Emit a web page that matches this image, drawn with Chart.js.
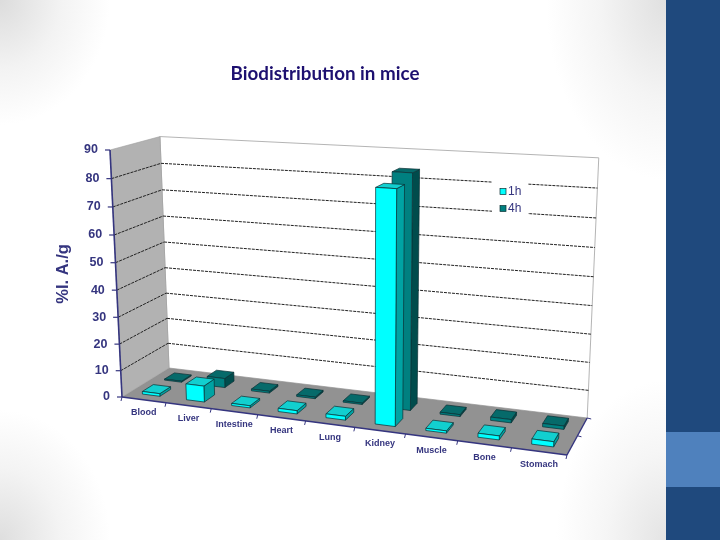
<!DOCTYPE html>
<html>
<head>
<meta charset="utf-8">
<script src="https://cdn.jsdelivr.net/npm/chart.js@4"></script>
<style>
  html, body { margin: 0; padding: 0; width: 720px; height: 540px; overflow: hidden; }
  body {
    position: relative;
    background-color: #fff;
    background-image:
      radial-gradient(ellipse 110px 125px at 0 0, #dcdcdc, rgba(220,220,220,0.35) 55%, rgba(220,220,220,0)),
      radial-gradient(ellipse 110px 130px at 0 540px, #dedede, rgba(222,222,222,0.35) 55%, rgba(222,222,222,0)),
      radial-gradient(ellipse 120px 180px at 666px 0, #e0e0e0, rgba(224,224,224,0.35) 55%, rgba(224,224,224,0)),
      radial-gradient(ellipse 110px 160px at 666px 540px, #e4e4e4, rgba(228,228,228,0.35) 55%, rgba(228,228,228,0));
  }
  #chart { position: absolute; left: 0; top: 0; }
  .panel { position: absolute; left: 666px; width: 54px; }
</style>
</head>
<body>
<canvas id="chart" width="650" height="540"></canvas>
<div class="panel" style="top:0;height:540px;background:#1f497d"></div>
<div class="panel" style="top:432px;height:55px;background:#4f81bd"></div>
<script>
const categories = ["Blood", "Liver", "Intestine", "Heart", "Lung", "Kidney", "Muscle", "Bone", "Stomach"];
const hour1 = [1, 6, 0.8, 1.2, 1.4, 81.5, 0.8, 1.4, 1.8];
const hour4 = [0.4, 3.5, 0.7, 0.6, 0.5, 84, 0.7, 1.2, 1.2];
const seriesLabels = ["1h", "4h"];
const axisMax = 90;
const axisStep = 10;
const axisTitle = "%I. A./g";
const chartTitle = "Biodistribution in mice";

const NAVY = "#35357f";
// camera: pixel corners of the plot box, and the perspective weight of each axis
const ORIGIN = [122, 397];
const X_END = [567, 455];
const Y_END = [110, 150];
const Z_END = [169, 368];
const W_X = 0.878, W_Y = 0.953, W_Z = 1.07;
// depth slot of each series on the floor
const ROWS = [[0.15, 0.38], [0.62, 0.84]];
const FACES = [
  { front: "#00ffff", side: "#00a3a3", top: "#12cfcf" },
  { front: "#008080", side: "#004c4c", top: "#066a6a" },
];

function project(u, v, z) {
  const d = 1 + (W_X - 1) * u + (W_Y - 1) * v + (W_Z - 1) * z;
  return [0, 1].map(
    (k) =>
      (ORIGIN[k] +
        u * (W_X * X_END[k] - ORIGIN[k]) +
        v * (W_Y * Y_END[k] - ORIGIN[k]) +
        z * (W_Z * Z_END[k] - ORIGIN[k])) / d
  );
}

// 0..1 position of a value along a scale
function decimalOf(scale, value) {
  return scale.getDecimalForPixel(scale.getPixelForValue(value));
}

function poly(ctx, pts, fill, stroke, width) {
  ctx.beginPath();
  pts.forEach((p, i) => (i ? ctx.lineTo(p[0], p[1]) : ctx.moveTo(p[0], p[1])));
  ctx.closePath();
  if (fill) { ctx.fillStyle = fill; ctx.fill(); }
  if (stroke) { ctx.strokeStyle = stroke; ctx.lineWidth = width || 1; ctx.stroke(); }
}

function line(ctx, a, b, color, width, dash) {
  ctx.beginPath();
  ctx.moveTo(a[0], a[1]);
  ctx.lineTo(b[0], b[1]);
  ctx.strokeStyle = color;
  ctx.lineWidth = width;
  ctx.setLineDash(dash || []);
  ctx.stroke();
  ctx.setLineDash([]);
}

function drawBox(ctx, u0, u1, v, z0, z1, c) {
  const edge = "#0a2f33";
  poly(ctx, [project(u1, 0, z0), project(u1, 0, z1), project(u1, v, z1), project(u1, v, z0)], c.side, edge, 0.7);
  poly(ctx, [project(u0, v, z0), project(u1, v, z0), project(u1, v, z1), project(u0, v, z1)], c.top, edge, 0.7);
  poly(ctx, [project(u0, 0, z0), project(u1, 0, z0), project(u1, v, z0), project(u0, v, z0)], c.front, edge, 0.7);
}

function drawRoom(chart, ctx) {
  const yScale = chart.scales.y;
  poly(ctx, [project(0, 0, 1), project(1, 0, 1), project(1, 1, 1), project(0, 1, 1)], "#ffffff", "#b4b4b4", 1);
  poly(ctx, [project(0, 0, 0), project(0, 0, 1), project(0, 1, 1), project(0, 1, 0)], "#b2b2b2", "#a0a0a0", 0.6);
  poly(ctx, [project(0, 0, 0), project(1, 0, 0), project(1, 0, 1), project(0, 0, 1)], "#929292", null);

  // gridlines run along the side wall, then the back wall
  yScale.ticks.forEach((t) => {
    if (t.value === 0 || t.value === axisMax) return;
    const v = decimalOf(yScale, t.value);
    line(ctx, project(0, v, 0), project(0, v, 1), "#222", 1, [3, 1]);
    line(ctx, project(0, v, 1), project(1, v, 1), "#222", 1, [3, 1]);
  });
}

function drawAxes(chart, ctx) {
  const xScale = chart.scales.x;
  const yScale = chart.scales.y;

  line(ctx, project(0, 0, 0), project(0, 1, 0), NAVY, 1.6);
  line(ctx, project(0, 0, 0), project(1, 0, 0), NAVY, 1.6);
  line(ctx, project(1, 0, 0), project(1, 0, 1), NAVY, 1.4);
  const mid = project(1, 0, 0.5), far = project(1, 0, 1);
  line(ctx, mid, [mid[0] + 4, mid[1] + 1], NAVY, 1);
  line(ctx, far, [far[0] + 4, far[1] + 1], NAVY, 1);

  ctx.textBaseline = "middle";

  ctx.font = "bold 12.5px 'Liberation Sans'";
  ctx.textAlign = "right";
  yScale.ticks.forEach((t) => {
    const p = project(0, decimalOf(yScale, t.value), 0);
    line(ctx, [p[0] - 5, p[1]], p, NAVY, 1.2);
    ctx.fillStyle = NAVY;
    ctx.fillText(t.label, p[0] - 12, p[1]);
  });

  ctx.font = "bold 9px 'Liberation Sans'";
  ctx.textAlign = "center";
  xScale.getLabels().forEach((label, i) => {
    const halfBand = 0.5 / categories.length;
    const u = decimalOf(xScale, i);
    const a = project(u - halfBand, 0, 0);
    line(ctx, a, [a[0] - 1, a[1] + 4], NAVY, 1);
    const p = project(u, 0, 0);
    ctx.fillStyle = NAVY;
    ctx.fillText(label, p[0], p[1] + 13);
  });
  const endTick = project(1, 0, 0);
  line(ctx, endTick, [endTick[0] - 1, endTick[1] + 4], NAVY, 1);

  ctx.save();
  ctx.translate(63, 274);
  ctx.rotate(-Math.PI / 2);
  ctx.font = "bold 16.5px 'Liberation Sans'";
  ctx.fillStyle = NAVY;
  ctx.fillText(axisTitle, 0, 0);
  ctx.restore();
}

function drawKey(chart, ctx) {
  ctx.fillStyle = "#ffffff";
  ctx.fillRect(492, 180, 36, 39);
  ctx.font = "12px 'Liberation Sans'";
  ctx.textAlign = "left";
  ctx.textBaseline = "middle";
  chart.data.datasets.forEach((ds, i) => {
    const y = 191.5 + i * 17;
    ctx.fillStyle = ds.backgroundColor;
    ctx.strokeStyle = "#0a2f33";
    ctx.lineWidth = 0.7;
    ctx.fillRect(500, y - 3, 6, 6);
    ctx.strokeRect(500, y - 3, 6, 6);
    ctx.fillStyle = NAVY;
    ctx.fillText(ds.label, 508, y);
  });
}

const scene3d = {
  id: "scene3d",
  // replaces the flat bars: the bar elements still give x, width and height
  beforeDatasetsDraw(chart) {
    const ctx = chart.ctx;
    const xScale = chart.scales.x;
    const yScale = chart.scales.y;
    drawRoom(chart, ctx);
    drawKey(chart, ctx);
    drawAxes(chart, ctx);
    // back row first, right to left, so nearer boxes cover farther ones
    for (let s = chart.data.datasets.length - 1; s >= 0; s--) {
      const bars = chart.getDatasetMeta(s).data;
      for (let i = bars.length - 1; i >= 0; i--) {
        const bar = bars[i];
        const u0 = xScale.getDecimalForPixel(bar.x - bar.width / 2);
        const u1 = xScale.getDecimalForPixel(bar.x + bar.width / 2);
        const v = yScale.getDecimalForPixel(bar.y);
        drawBox(ctx, u0, u1, v, ROWS[s][0], ROWS[s][1], FACES[s]);
      }
    }
    return false;
  },
};

new Chart(document.getElementById("chart"), {
  type: "bar",
  data: {
    labels: categories,
    datasets: [
      { label: seriesLabels[0], data: hour1, backgroundColor: FACES[0].front },
      { label: seriesLabels[1], data: hour4, backgroundColor: FACES[1].front },
    ],
  },
  options: {
    responsive: false,
    animation: false,
    layout: { padding: { top: 63, left: 40, right: 40, bottom: 40 } },
    datasets: { bar: { grouped: false, barPercentage: 0.4, categoryPercentage: 1 } },
    scales: {
      x: { display: false },
      y: { display: false, min: 0, max: axisMax, ticks: { stepSize: axisStep } },
    },
    plugins: {
      legend: { display: false },
      tooltip: { enabled: false },
      title: {
        display: true,
        text: chartTitle,
        color: "#1d1070",
        padding: 0,
        font: { family: "Lato", size: 18.8, weight: "bold" },
      },
    },
  },
  plugins: [scene3d],
});
</script>
</body>
</html>
